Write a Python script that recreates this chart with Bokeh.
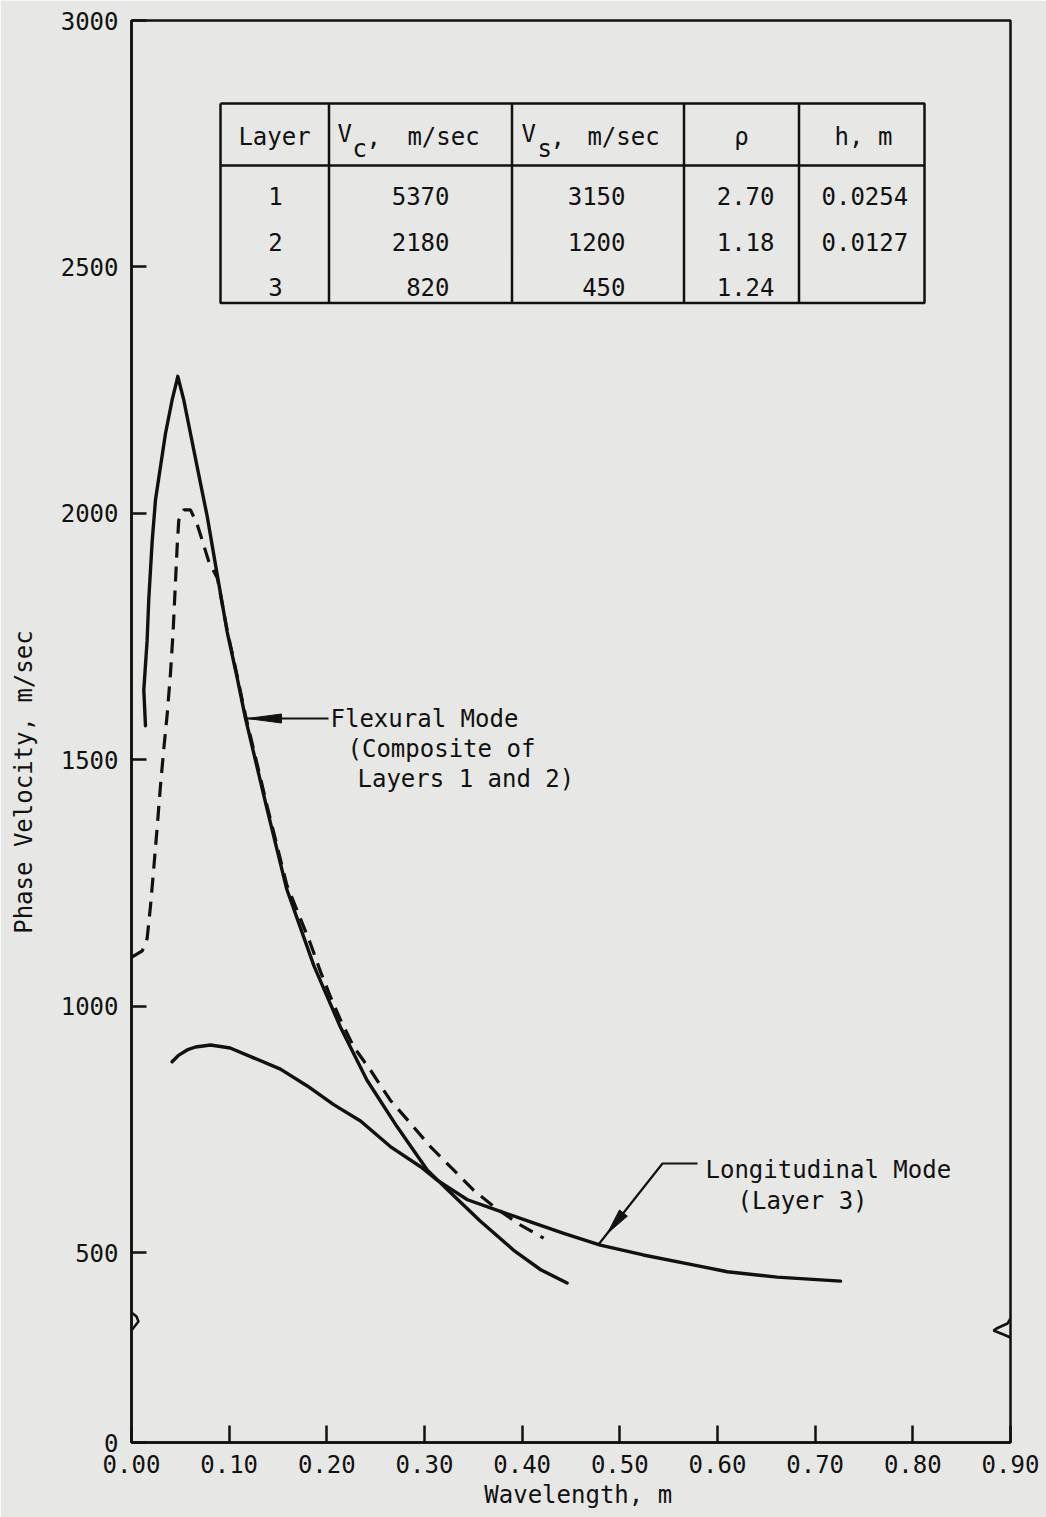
import numpy as np
from bokeh.plotting import figure
from bokeh.models import Range1d, FixedTicker, NumeralTickFormatter, CustomJSTickFormatter
from bokeh.core.properties import value
from bokeh.embed import file_html
from bokeh.resources import INLINE

# ---------------- data ----------------
flex_x = [0.0143, 0.0126, 0.0160, 0.0177, 0.0212, 0.0246, 0.0297, 0.0348, 0.0416, 0.0468, 0.0474,
          0.0535, 0.0604, 0.0689, 0.0775, 0.0877, 0.098, 0.108, 0.1167, 0.139, 0.159, 0.1867,
          0.214, 0.241, 0.272, 0.303, 0.330, 0.357, 0.391, 0.419, 0.446]
flex_y = [1569, 1641, 1742, 1826, 1944, 2028, 2095, 2162, 2230, 2272, 2278,
          2230, 2162, 2078, 1994, 1876, 1759, 1668, 1584, 1398, 1237, 1082,
          957, 850, 755, 667, 615, 564, 505, 465, 438]

dash_x = [0.0, 0.011, 0.016, 0.0195, 0.0228, 0.0263, 0.0297, 0.0331, 0.0365, 0.0399, 0.0426,
          0.045, 0.0468, 0.0484, 0.0535, 0.0604, 0.0672, 0.074, 0.079, 0.088, 0.098, 0.108,
          0.1167, 0.139, 0.159, 0.183, 0.1935, 0.2037, 0.214, 0.2276, 0.2447, 0.265, 0.2857,
          0.306, 0.330, 0.350, 0.371, 0.398, 0.422]
dash_y = [1099, 1112, 1137, 1204, 1280, 1363, 1448, 1523, 1591, 1675, 1759,
          1860, 1935, 1986, 2007, 2007, 1978, 1935, 1903, 1868, 1762, 1672,
          1590, 1405, 1246, 1128, 1070, 1019, 972, 917, 870, 809, 762,
          715, 667, 627, 593, 556, 529]

long_x = [0.0416, 0.0481, 0.057, 0.0655, 0.081, 0.101, 0.125, 0.1525, 0.18, 0.207, 0.2345, 0.265, 0.296,
          0.313, 0.344, 0.374, 0.4085, 0.4426, 0.480, 0.524, 0.575, 0.610, 0.661, 0.726]
long_y = [887, 900, 911, 917, 921, 915, 895, 872, 838, 800, 767, 715, 674,
          647, 607, 586, 562, 539, 515, 495, 475, 461, 450, 442]

x_ticks = [0.0, 0.1, 0.2, 0.3, 0.4, 0.5, 0.6, 0.7, 0.8, 0.9]
x_tick_labels = ["0.00", "0.10", "0.20", "0.30", "0.40", "0.50", "0.60", "0.70", "0.80", "0.90"]
y_ticks = [500, 1000, 1500, 2000, 2500, 3000]
y_zero_label = "0"

table_layers = ["1", "2", "3"]
table_vc = ["5370", "2180", "820"]
table_vs = ["3150", "1200", "450"]
table_rho = ["2.70", "1.18", "1.24"]
table_h = ["0.0254", "0.0127", ""]

x_title = "Wavelength, m"
y_title = "Phase Velocity, m/sec"
flex_label = ["Flexural Mode", "(Composite of", "Layers 1 and 2)"]
long_label = ["Longitudinal Mode", "(Layer 3)"]

# ---------------- layout ----------------
W, H = 1046, 1517
L, R, T, B = 131, 36, 20, 75
FW, FH = W - L - R, H - T - B
X0, X1 = 0.0, 0.9
Y1 = 3000.0
Y0 = Y1 - FH * 500.0 / 246.4   # broken axis: bottom edge is labelled 0

def px2x(px):
    return X0 + (px - L) * (X1 - X0) / FW

def py2y(py):
    return Y1 - (py - T) * (Y1 - Y0) / FH

BG = "#e7e7e5"
INK = "#111111"
FONT = "DejaVu Sans Mono"
FS = "24px"
NB = "\u00a0"

p = figure(width=W, height=H, x_range=Range1d(X0, X1), y_range=Range1d(Y0, Y1),
           output_backend="svg", toolbar_location=None,
           min_border_left=L, min_border_right=R, min_border_top=T, min_border_bottom=B)
p.grid.visible = False
p.background_fill_color = BG
p.border_fill_color = BG
p.outline_line_color = INK
p.outline_line_width = 2.5

for ax in (p.xaxis[0], p.yaxis[0]):
    ax.axis_line_color = INK
    ax.axis_line_width = 2.5
    ax.major_tick_line_color = INK
    ax.major_tick_line_width = 2.5
    ax.major_tick_out = 0
    ax.minor_tick_line_color = None
    ax.major_label_text_font = FONT
    ax.major_label_text_font_size = FS
    ax.major_label_text_color = INK
    ax.axis_label_text_font = FONT
    ax.axis_label_text_font_size = FS
    ax.axis_label_text_font_style = "normal"
    ax.axis_label_text_color = INK

p.xaxis.ticker = FixedTicker(ticks=x_ticks)
p.xaxis.formatter = NumeralTickFormatter(format="0.00")
p.xaxis.major_label_overrides = {t: s for t, s in zip(x_ticks, x_tick_labels)}
p.xaxis.major_tick_in = 17
p.xaxis.major_label_standoff = 12
p.xaxis.axis_label = NB + x_title
p.xaxis.axis_label_standoff = 5

p.yaxis.ticker = FixedTicker(ticks=[Y0] + y_ticks)
p.yaxis.formatter = CustomJSTickFormatter(
    args=dict(zero=y_zero_label, y0=Y0),
    code="return Math.abs(tick - y0) < 1 ? zero : tick.toFixed(0);")
p.yaxis.major_tick_in = 15
p.yaxis.major_label_standoff = 13
p.yaxis.axis_label = y_title + NB * 7
p.yaxis.axis_label_standoff = 20

# axis break marks (left and right edges)
yb = py2y(1322)
dy = (Y1 - Y0) / FH  # data units per pixel
bx_l = [px2x(v) for v in (131, 131, 136, 138, 134, 131, 131)]
by_l = [yb + k * dy for k in (14, 10, 6, 1, -4, -8, -12)]
p.line(bx_l, by_l, line_color=BG, line_width=4)
p.line(bx_l, by_l, line_color=INK, line_width=2.5)
p.line([px2x(v) for v in (1010, 1007, 996, 993, 1003, 1010)],
       [yb + k * dy for k in (4, -1, -6, -8, -12, -15)],
       line_color=INK, line_width=2.5)

# curves
p.line(dash_x, dash_y, line_color=INK, line_width=3.2, line_dash="15 9")
p.line(flex_x, flex_y, line_color=INK, line_width=3.4, line_join="round", line_cap="round")
p.line(long_x, long_y, line_color=INK, line_width=3.4, line_join="round", line_cap="round")

# ---- annotations ----
def tri(tip, base_c, half_w):
    tx, ty = tip
    bx, by = base_c
    vx, vy = bx - tx, by - ty
    n = np.hypot(vx, vy)
    nx, ny = -vy / n, vx / n
    xs = [tx, bx + nx * half_w, bx - nx * half_w]
    ys = [ty, by + ny * half_w, by - ny * half_w]
    return [px2x(v) for v in xs], [py2y(v) for v in ys]

# flexural arrow
p.line([px2x(328), px2x(246)], [py2y(718), py2y(718)], line_color=INK, line_width=2.2)
ax_, ay_ = tri((247, 718), (281, 718), 4.5)
p.patch(ax_, ay_, fill_color=INK, line_color=INK, line_width=1)

# longitudinal leader
p.line([px2x(697), px2x(662), px2x(598)], [py2y(1163), py2y(1163), py2y(1244)],
       line_color=INK, line_width=2.2)
tip = (606.8, 1233.0)
ux, uy = 0.62, -0.786
ax_, ay_ = tri(tip, (tip[0] + ux * 26, tip[1] + uy * 26), 5)
p.patch(ax_, ay_, fill_color=INK, line_color=INK, line_width=1)

def txt(xpx, ypx, s, align="left", size=FS):
    p.text(x=[px2x(xpx)], y=[py2y(ypx)], text=[s], text_font=value(FONT),
           text_font_size=size, text_align=align, text_baseline="middle", text_color=INK)

txt(330, 718, flex_label[0])
txt(347, 748, flex_label[1])
txt(357, 778, flex_label[2])
txt(705, 1169, long_label[0])
txt(737, 1200, long_label[1])

# ---- table ----
col_edges = [220, 328.5, 511.5, 683.5, 798.5, 924]
row_top, row_head, row_bot = 103, 165, 302.5
tl = dict(line_color=INK, line_width=2.5)
p.line([px2x(col_edges[0]), px2x(col_edges[-1]), px2x(col_edges[-1]), px2x(col_edges[0]), px2x(col_edges[0])],
       [py2y(row_top), py2y(row_top), py2y(row_bot), py2y(row_bot), py2y(row_top)], **tl)
p.line([px2x(col_edges[0]), px2x(col_edges[-1])], [py2y(row_head), py2y(row_head)], **tl)
for c in col_edges[1:-1]:
    p.line([px2x(c), px2x(c)], [py2y(row_top), py2y(row_bot)], **tl)

hy = 136
txt(274, hy, "Layer", "center")
txt(337, hy - 3, "V")
txt(352, hy + 12, "c")
txt(366, hy, ",")
txt(443, hy, "m/sec", "center")
txt(521, hy - 3, "V")
txt(537, hy + 12, "s")
txt(550, hy, ",")
txt(623, hy, "m/sec", "center")
txt(741, hy, "\u03c1", "center")
txt(863, hy, "h, m", "center")

row_y = [195, 241, 286]
for i in range(3):
    txt(275, row_y[i], table_layers[i], "center")
    txt(449, row_y[i], table_vc[i], "right")
    txt(625, row_y[i], table_vs[i], "right")
    txt(774, row_y[i], table_rho[i], "right")
    if table_h[i]:
        txt(821, row_y[i], table_h[i], "left")

open("out.html", "w").write(file_html(p, INLINE))
